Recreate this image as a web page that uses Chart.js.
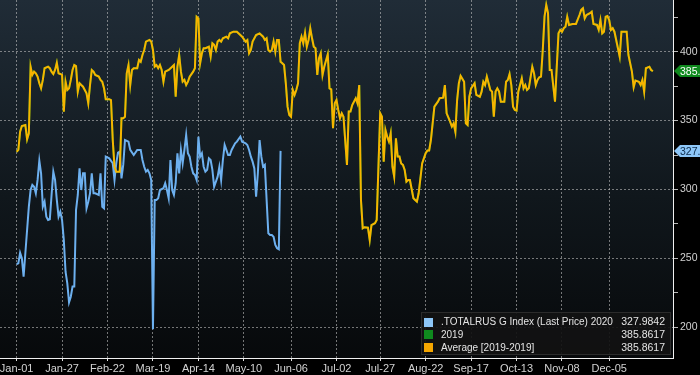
<!DOCTYPE html>
<html>
<head>
<meta charset="utf-8">
<script src="https://cdn.jsdelivr.net/npm/chart.js@4/dist/chart.umd.min.js"></script>
<style>
  html, body { margin: 0; padding: 0; background: #000; }
  #wrap { width: 700px; height: 375px; }
</style>
</head>
<body>
<div id="wrap"><canvas id="chart" width="700" height="375"></canvas></div>
<script>
// x axis: day of year (Jan-01 = 0)
const tickDays = [0, 26, 52, 78, 104, 130, 157, 183, 208, 234, 260, 286, 312, 339];
const tickLabels = ['Jan-01', 'Jan-27', 'Feb-22', 'Mar-19', 'Apr-14', 'May-10', 'Jun-06',
    'Jul-02', 'Jul-27', 'Aug-22', 'Sep-17', 'Oct-13', 'Nov-08', 'Dec-05'];
const yTicks = [200, 225, 250, 275, 300, 325, 350, 375, 400, 425];

// 2019 (and its average, same numbers)
const days2019 = [0, 1, 2, 3, 5, 6, 7, 8, 9, 10, 11, 12, 13, 14, 15, 16, 18, 19, 20, 21, 22, 23, 24, 25, 26,
    27, 28, 29, 30, 31, 32, 33, 34, 35, 36, 37, 38, 40, 41, 42, 43, 44, 45, 47, 48, 49, 50, 51, 53, 54,
    55, 56, 57, 59, 60, 61, 62, 63, 64, 65, 66, 67, 69, 70, 71, 72, 73, 74, 76, 77, 78, 79, 80, 81, 82,
    83, 84, 85, 87, 89, 90, 91, 92, 93, 94, 95, 96, 97, 98, 99, 101, 102, 103, 104, 105, 106, 107, 108,
    110, 111, 112, 113, 114, 115, 116, 117, 118, 120, 121, 122, 124, 126, 128, 129, 131, 132, 133, 134,
    135, 137, 139, 141, 142, 143, 144, 145, 146, 147, 148, 149, 150, 151, 152, 153, 154, 155, 156, 157,
    158, 159, 160, 161, 162, 163, 164, 165, 166, 167, 168, 169, 170, 171, 172, 173, 174, 175, 176, 178,
    179, 180, 181, 182, 183, 184, 185, 186, 187, 189, 190, 191, 192, 194, 195, 196, 197, 198, 199, 201,
    202, 203, 205, 206, 208, 209, 210, 211, 212, 213, 214, 215, 216, 217, 218, 219, 220, 221, 222, 223,
    224, 225, 227, 228, 229, 230, 232, 234, 235, 236, 237, 239, 241, 242, 244, 245, 246, 248, 249, 250,
    251, 252, 253, 254, 256, 257, 258, 259, 260, 262, 263, 265, 266, 267, 268, 269, 270, 271, 272, 273,
    274, 275, 276, 277, 279, 280, 281, 282, 283, 284, 285, 286, 287, 288, 289, 290, 291, 292, 293, 295,
    296, 297, 298, 299, 300, 301, 302, 303, 304, 305, 306, 308, 309, 310, 311, 312, 313, 314, 315, 316,
    318, 320, 322, 323, 324, 325, 326, 328, 329, 330, 332, 333, 334, 335, 336, 337, 338, 339, 340, 341,
    342, 344, 345, 346, 348, 349, 350, 352, 353, 354, 356, 357, 358, 359, 360, 362, 363, 364];
const avg2019 = [327.4, 328.7, 341.9, 346.1, 346.8, 336.4, 340.8, 389.1, 383.1, 385.5, 384.3, 381.9, 377.1,
    373.4, 379.5, 388.0, 389.1, 388.0, 385.5, 383.8, 386.7, 392.0, 384.3, 383.8, 383.1,
    356.5, 378.2, 372.2, 373.4, 379.5, 386.7, 390.3, 389.6, 371.0, 377.1, 375.8, 374.6, 369.8, 362.5,
    375.8, 386.7, 385.5, 383.1, 381.9, 379.5, 378.2, 373.4, 365.5, 365.5, 364.9,
    335.9, 316.5, 312.9, 312.9, 351.7, 351.7, 352.8, 384.3, 390.3, 375.8, 386.7, 388.0, 388.0, 394.0,
    392.7, 397.6, 401.2, 407.3, 408.5, 407.3, 401.2, 389.1, 390.3, 388.0, 390.3,
    386.7, 378.2, 385.5, 386.7, 389.1, 390.3, 367.3, 389.1, 397.6, 385.5, 378.2, 379.5, 375.8, 378.2,
    381.9, 385.5, 388.0, 425.4, 424.2, 391.6, 398.8, 402.5, 402.5,
    403.6, 396.4, 406.1, 404.9, 401.2, 407.3, 408.5, 407.3, 409.7, 410.9, 409.7, 413.3, 414.5, 414.5,
    412.1, 410.9, 407.3, 408.5, 398.8, 401.2,
    407.3, 412.1, 413.3, 410.9, 408.5, 409.7, 401.2, 400.0, 401.2, 407.3, 400.0, 408.5, 408.5, 392.7,
    391.6, 390.3, 377.1, 360.1, 354.1, 352.8,
    372.2, 368.6, 372.2, 377.1, 406.1, 410.9, 406.1, 413.6, 403.6, 408.5, 417.0, 409.7, 403.6, 402.5,
    383.1, 395.2, 398.8, 383.1, 389.1, 398.1,
    373.4, 372.7, 344.4, 362.5, 364.9, 357.7, 351.7, 355.3, 352.8, 317.8, 356.5, 356.5, 361.3, 366.2,
    362.5, 375.8, 292.4, 271.8, 272.6, 272.3,
    263.4, 274.2, 275.5, 277.9, 355.3, 352.8, 320.2, 343.2, 338.3, 334.7, 340.8, 316.5, 309.3, 337.1,
    323.9, 323.9, 318.9, 317.8, 314.2, 305.7,
    306.9, 306.9, 293.6, 292.4, 291.2, 297.2, 318.9, 326.3, 328.2, 328.2, 335.9, 360.1, 363.7, 366.2,
    366.6, 375.8, 355.3, 349.2, 345.6, 348.0,
    341.9, 364.9, 377.1, 382.4, 378.2, 348.0, 346.8, 367.3, 373.4, 377.1, 368.6, 367.3, 371.0, 378.2,
    375.8, 381.9, 377.1, 372.2, 371.0, 352.8,
    371.0, 373.4, 371.0, 363.7, 363.7, 378.2, 379.5, 383.8, 375.8, 360.1, 357.7, 357.2, 371.0, 375.8,
    380.7, 373.4, 375.8, 372.2, 373.4, 389.1,
    384.3, 375.8, 379.5, 381.4, 381.9, 401.2, 425.4, 433.9, 427.9, 386.7, 386.7, 363.7, 389.1, 413.3,
    415.8, 414.5, 417.0, 418.1, 425.4, 419.4,
    420.1, 420.1, 426.6, 430.3, 431.5, 424.2, 426.6, 427.9, 429.0, 420.1, 419.4, 415.8, 423.0, 413.3,
    414.5, 425.4, 425.9, 423.0, 415.8, 417.0,
    414.5, 402.5, 396.4, 414.5, 414.5, 414.5, 397.6, 385.5, 374.2, 379.0, 378.2, 375.8, 379.5, 371.0,
    388.0, 389.1, 386.7, 385.9];

// 2020 .TOTALRUS G Index
const days2020 = [0, 1, 2, 3, 4, 5, 7, 8, 9, 10, 11, 12, 13, 14, 15, 16, 17, 18, 19, 20, 21, 22, 23, 24,
    25, 26, 27, 28, 29, 30, 31, 32, 33, 34, 35, 36, 37, 38, 39, 40, 41, 42, 43, 44, 45, 47, 48, 49, 50,
    51, 53, 55, 56, 57, 58, 59, 60, 61, 62, 64, 65, 67, 69, 71, 72, 73, 74, 75, 76, 77, 78, 79, 80, 81,
    82, 84, 85, 86, 87, 88, 89, 90, 91, 92, 93, 94, 95, 96, 97, 98, 99, 100, 101, 102, 103, 104, 105,
    106, 107, 108, 109, 110, 111, 112, 113, 115, 116, 117, 118, 119, 120, 121, 122, 123, 125, 126, 128,
    129, 131, 132, 133, 134, 135, 136, 137, 138, 139, 140, 141, 142, 144, 145, 146, 147, 148, 149, 150, 151];
const index2020 = [245.9, 246.4, 254.1, 250.1, 236.7, 253.7, 287.5, 299.6, 303.3, 302.0, 297.2, 306.9,
    320.9, 311.7, 287.5, 291.1, 280.3, 277.9, 278.4, 296.0, 312.9, 306.9, 292.4, 280.3,
    283.9, 277.9, 263.4, 240.3, 231.9, 218.1, 222.2, 229.5, 229.5, 285.1, 296.0, 315.3, 299.6, 311.7,
    311.7, 286.3, 291.1, 297.2, 311.7, 297.2, 297.2, 296.0, 311.7, 287.5, 286.3,
    323.8, 322.6, 319.0, 306.9, 319.0, 326.7, 327.4, 308.1, 317.8, 335.9, 334.7, 328.7, 325.0, 328.7,
    328.7, 321.4, 316.5, 312.9, 314.2, 311.7, 306.9, 198.5, 292.4, 292.4, 293.6,
    299.6, 300.9, 304.5, 299.6, 293.6, 321.4, 299.6, 296.0, 304.5, 326.3, 311.7, 328.7, 319.0, 328.7,
    339.5, 326.3, 323.8, 316.5, 311.7, 310.5, 306.9, 338.3, 323.8,
    326.3, 316.5, 312.9, 314.2, 322.6, 321.4, 314.2, 302.0, 309.3, 316.5, 306.9, 321.4, 332.3, 328.7,
    325.0, 325.0, 328.7, 333.5, 334.7, 338.3,
    334.7, 333.5, 332.3, 328.7, 323.8, 320.2, 315.3, 294.8, 311.7, 335.9, 323.8, 316.5, 317.8, 268.2,
    267.0, 267.0, 265.7, 259.7, 257.3, 256.6, 328.0];

const lastValues = { idx: '327.9842', y2019: '385.8617', avg: '385.8617' };

const BLUE = '#6db0ef';
const BLUE_KEY = '#8dc6f7';
const GREEN = '#0f8a1e';
const ORANGE = '#f7b400';
const ORANGE_KEY = '#f5a600';
const FONT = '"Liberation Sans", Arial, sans-serif';

function toPoints(xs, ys) {
    return xs.map(function (d, i) { return { x: d, y: ys[i] }; });
}

// background: black canvas, dark gradient in the plot area
const bgPlugin = {
    id: 'bg',
    beforeDraw: function (chart) {
        const ctx = chart.ctx;
        const a = chart.chartArea;
        ctx.save();
        ctx.fillStyle = '#000';
        ctx.fillRect(0, 0, chart.width, chart.height);
        const g = ctx.createLinearGradient(0, a.top, 0, a.bottom);
        g.addColorStop(0, '#202c37');
        g.addColorStop(0.55, '#10171c');
        g.addColorStop(1, '#07090b');
        ctx.fillStyle = g;
        ctx.fillRect(a.left, a.top, a.right - a.left, a.bottom - a.top);
        ctx.restore();
    }
};

// last value tags on the right axis + legend box
const overlayPlugin = {
    id: 'overlay',
    afterDraw: function (chart) {
        const ctx = chart.ctx;
        const a = chart.chartArea;
        const y = chart.scales.y;

        function tag(value, fill, textColor, text) {
            const py = Math.round(y.getPixelForValue(value));
            const x0 = a.right + 1;
            ctx.beginPath();
            ctx.moveTo(x0, py);
            ctx.lineTo(x0 + 6, py - 6);
            ctx.lineTo(chart.width, py - 6);
            ctx.lineTo(chart.width, py + 6);
            ctx.lineTo(x0 + 6, py + 6);
            ctx.closePath();
            ctx.fillStyle = fill;
            ctx.fill();
            ctx.fillStyle = textColor;
            ctx.font = '10.5px ' + FONT;
            ctx.textBaseline = 'middle';
            ctx.textAlign = 'left';
            ctx.fillText(text, x0 + 6, py + 1);
        }

        ctx.save();
        tag(385.8617, GREEN, '#ffffff', lastValues.y2019);
        tag(327.9842, BLUE_KEY, '#0b2a4a', lastValues.idx);

        // legend
        const lx = 421, ly = 312, lw = 250, lh = 43;
        ctx.fillStyle = 'rgba(18,18,18,0.92)';
        ctx.fillRect(lx, ly, lw, lh);
        ctx.strokeStyle = '#2b2b2b';
        ctx.lineWidth = 1;
        ctx.strokeRect(lx + 0.5, ly + 0.5, lw - 1, lh - 1);

        const rows = [
            { color: BLUE_KEY, label: '.TOTALRUS G Index (Last Price) 2020', value: lastValues.idx },
            { color: GREEN, label: '2019', value: lastValues.y2019 },
            { color: ORANGE_KEY, label: 'Average [2019-2019]', value: lastValues.avg }
        ];
        ctx.textBaseline = 'middle';
        rows.forEach(function (r, i) {
            const cy = ly + 10 + i * 12.8;
            ctx.fillStyle = r.color;
            ctx.fillRect(lx + 3, Math.round(cy - 4.5), 9, 9);
            ctx.fillStyle = '#e4e4e4';
            ctx.font = '10px ' + FONT;
            ctx.textAlign = 'left';
            ctx.fillText(r.label, lx + 20, cy + 0.5);
            ctx.font = '10.5px ' + FONT;
            ctx.textAlign = 'right';
            ctx.fillText(r.value, lx + lw - 6, cy + 0.5);
        });
        ctx.restore();
    }
};

const gridColor = 'rgba(190,190,190,0.6)';

new Chart(document.getElementById('chart'), {
    type: 'line',
    data: {
        datasets: [
            {
                label: '.TOTALRUS G Index (Last Price) 2020',
                data: toPoints(days2020, index2020),
                borderColor: BLUE,
                borderWidth: 2,
                pointRadius: 0,
                tension: 0,
                order: 1
            },
            {
                label: '2019',
                data: toPoints(days2019, avg2019),
                borderColor: GREEN,
                borderWidth: 2,
                pointRadius: 0,
                tension: 0,
                order: 2
            },
            {
                label: 'Average [2019-2019]',
                data: toPoints(days2019, avg2019),
                borderColor: ORANGE,
                borderWidth: 2,
                pointRadius: 0,
                tension: 0,
                order: 0
            }
        ]
    },
    options: {
        responsive: false,
        animation: false,
        devicePixelRatio: 1,
        layout: { padding: 0 },
        plugins: {
            legend: { display: false },
            tooltip: { enabled: false }
        },
        scales: {
            x: {
                type: 'linear',
                min: -9.5,
                max: 375.5,
                afterBuildTicks: function (scale) {
                    scale.ticks = tickDays.map(function (d) { return { value: d }; });
                },
                afterFit: function (scale) {
                    scale.height = 17;
                    scale.paddingLeft = 0;
                    scale.paddingRight = 0;
                },
                ticks: {
                    autoSkip: false,
                    maxRotation: 0,
                    padding: 1,
                    color: '#d2d2d2',
                    font: { family: FONT, size: 11 },
                    callback: function (value) {
                        const i = tickDays.indexOf(value);
                        return i >= 0 ? tickLabels[i] : '';
                    }
                },
                grid: {
                    color: gridColor,
                    tickColor: '#e0e0e0',
                    tickLength: 3
                },
                border: { display: true, color: '#f0f0f0', width: 1, dash: [2, 2] }
            },
            y: {
                position: 'right',
                min: 177.7,
                max: 437.5,
                afterBuildTicks: function (scale) {
                    scale.ticks = yTicks.map(function (v) { return { value: v }; });
                },
                afterFit: function (scale) {
                    scale.width = 27;
                    scale.paddingTop = 0;
                    scale.paddingBottom = 0;
                },
                ticks: {
                    padding: 2,
                    color: '#d2d2d2',
                    font: { family: FONT, size: 10.5 },
                    callback: function (value) {
                        return value % 50 === 0 ? String(value) : '';
                    }
                },
                grid: {
                    color: function (c) {
                        return c.tick && c.tick.value % 50 === 0 ? gridColor : 'rgba(0,0,0,0)';
                    },
                    tickColor: '#b8b8b8',
                    tickLength: 5
                },
                border: { display: true, color: '#f0f0f0', width: 1, dash: [2, 2] }
            }
        }
    },
    plugins: [bgPlugin, overlayPlugin]
});
</script>
</body>
</html>
